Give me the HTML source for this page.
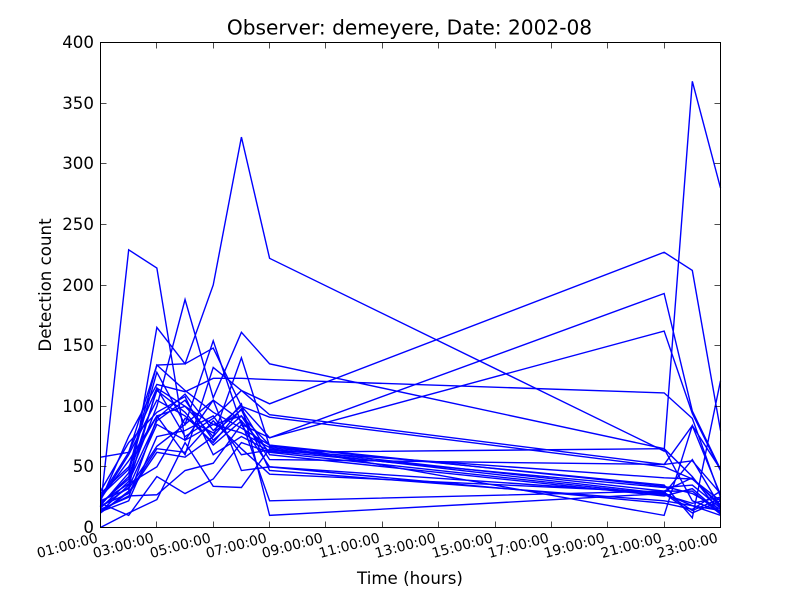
<!DOCTYPE html>
<html>
<head>
<meta charset="utf-8">
<title>Observer: demeyere, Date: 2002-08</title>
<style>
html,body{margin:0;padding:0;background:#fff;width:800px;height:600px;overflow:hidden}
svg{display:block}
text{font-family:"DejaVu Sans","Liberation Sans",sans-serif;fill:#000}
</style>
</head>
<body>
<svg id="chart" width="800" height="600" viewBox="0 0 800 600" xmlns="http://www.w3.org/2000/svg">
<rect x="0" y="0" width="800" height="600" fill="#fff"/>
<text x="409.500" y="34.500" font-size="20.150" text-anchor="middle">Observer: demeyere, Date: 2002-08</text>
<text x="410" y="584" font-size="16.67" text-anchor="middle">Time (hours)</text>
<text x="0" y="0" font-size="16.67" text-anchor="middle" transform="translate(51 285) rotate(-90)">Detection count</text>
<g id="series"></g>
<g id="ticks"></g>
<rect x="100.500" y="42.500" width="620" height="485" fill="none" stroke="#000" stroke-width="1"/>
</svg>
<script>
var hours = [1,2,3,4,5,6,7,21,22,23];
var xTickHours = [1,3,5,7,9,11,13,15,17,19,21,23];
var xTickLabels = ["01:00:00","03:00:00","05:00:00","07:00:00","09:00:00","11:00:00","13:00:00","15:00:00","17:00:00","19:00:00","21:00:00","23:00:00"];
var yTickValues = [0,50,100,150,200,250,300,350,400];
var seriesA = [17,229,214,72,85,92,68,10,84,27];
var seriesB = [12,30,165,135,200,322,222,63,368,280];
var seriesC = [25,62,134,135,148,100,74,193,96,48];
var seriesD = [20,40,100,188,107,161,135,65,42,12];
var seriesE = [18,45,128,85,154,85,74,162,94,47];
var seriesF = [22,75,118,112,123,123,122,111,90,25];
var seriesG = [28,50,92,60,132,113,102,227,212,80];
var seriesH = [13,35,115,100,75,140,67,35,8,121];
var seriesI = [58,62,115,75,90,113,93,52,84,48];
var seriesJ = [15,25,90,110,80,100,91,50,40,22];
var seriesK = [20,10,42,28,40,70,62,65,22,13];
var seriesL = [0,12,23,70,34,33,65,28,18,14];
var seriesM = [14,26,27,47,53,85,50,28,12,22];
var seriesN = [18,28,62,58,75,102,10,28,56,17];
var seriesO = [22,32,67,85,105,88,22,30,41,17];
var seriesP = [16,38,88,105,72,92,56,52,55,28];
var seriesQ = [24,55,92,100,85,78,66,30,30,11];
var seriesR = [13,22,75,80,92,60,64,41,40,19];
var seriesS = [19,42,113,95,68,88,62,27,20,25];
var seriesT = [26,48,134,113,95,82,68,34,28,15];
var seriesU = [17,33,85,72,105,47,50,20,15,30];
var seriesV = [21,36,50,90,78,97,47,22,18,10];
var seriesW = [30,70,95,108,60,75,63,33,35,16];
var seriesX = [12,29,65,62,88,65,44,29,14,24];
var seriesY = [23,60,105,92,70,98,60,26,32,12];
var allSeries = [seriesA,seriesB,seriesC,seriesD,seriesE,seriesF,seriesG,seriesH,seriesI,seriesJ,seriesK,seriesL,seriesM,seriesN,seriesO,seriesP,seriesQ,seriesR,seriesS,seriesT,seriesU,seriesV,seriesW,seriesX,seriesY];

var NS = "http://www.w3.org/2000/svg";
var plot = {left:100.5, right:720.5, top:42.5, bottom:527.5};
function xScale(h){ return plot.left + (h - 1) / 22 * (plot.right - plot.left); }
function yScale(v){ return plot.bottom - v / 400 * (plot.bottom - plot.top); }

var seriesGroup = document.getElementById("series");
allSeries.forEach(function(values, i){
  var pts = values.map(function(v, j){ return xScale(hours[j]).toFixed(2) + "," + yScale(v).toFixed(2); }).join(" ");
  var line = document.createElementNS(NS, "polyline");
  line.setAttribute("points", pts);
  line.setAttribute("fill", "none");
  line.setAttribute("stroke", "#0000ff");
  line.setAttribute("stroke-width", "1.4");
  line.setAttribute("stroke-linejoin", "miter");
  
  
  seriesGroup.appendChild(line);
});

var tickGroup = document.getElementById("ticks");
function addTick(x1, y1, x2, y2){
  var t = document.createElementNS(NS, "line");
  t.setAttribute("x1", x1); t.setAttribute("y1", y1);
  t.setAttribute("x2", x2); t.setAttribute("y2", y2);
  t.setAttribute("stroke", "#000");
  t.setAttribute("stroke-width", "0.7");
  
  
  tickGroup.appendChild(t);
}
xTickHours.forEach(function(h, i){
  var x = Math.round(xScale(h) - 0.5) + 0.5;
  addTick(x, plot.bottom, x, plot.bottom - 6);
  addTick(x, plot.top, x, plot.top + 6);
  var label = document.createElementNS(NS, "text");
  label.textContent = xTickLabels[i];
  label.setAttribute("font-size", "13.9");
  label.setAttribute("text-anchor", "middle");
  label.setAttribute("transform", "translate(" + (x - 32) + " 550) rotate(-15)");
  
  
  tickGroup.appendChild(label);
});
yTickValues.forEach(function(v){
  var y = Math.round(yScale(v) - 0.5) + 0.5;
  addTick(plot.left, y, plot.left + 6, y);
  addTick(plot.right, y, plot.right - 6, y);
  var label = document.createElementNS(NS, "text");
  label.textContent = String(v);
  label.setAttribute("font-size", "16.67");
  label.setAttribute("text-anchor", "end");
  label.setAttribute("x", "94");
  label.setAttribute("y", String(y + 5.5));
  
  
  tickGroup.appendChild(label);
});
</script>
</body>
</html>
